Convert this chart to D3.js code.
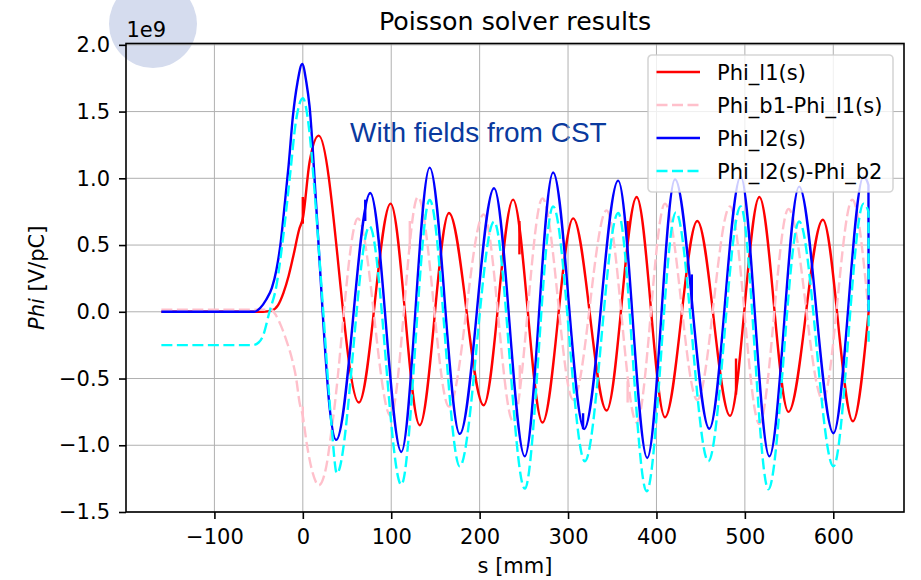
<!DOCTYPE html>
<html>
<head>
<meta charset="utf-8">
<script src="https://cdn.jsdelivr.net/npm/d3@7"></script>
<style>
  body { margin: 0; background: #fff; }
  svg text { font-family: "DejaVu Sans", sans-serif; }
</style>
</head>
<body>
<svg id="chart" width="921" height="580"></svg>
<script>
// values, s in mm, Phi in units of 1e9 V/pC
const phiL1 = [[-160, 0], [-45, 0], [-35, 0.01], [-28, 0.05], [-22, 0.14], [-16, 0.27], [-11, 0.41],
  [-4, 0.62], [0, 0.7], [7.6, 1.12], [18, 1.32], [63.4, -0.68], [99.3, 0.81], [132.2, -0.85],
  [165.3, 0.74], [204.6, -0.7], [237.8, 0.84], [271.1, -0.83], [305.8, 0.7], [343.6, -0.74],
  [377.6, 0.86], [409.6, -0.79], [446.2, 0.68], [483.2, -0.78], [516.4, 0.86], [549.3, -0.75],
  [588.2, 0.69], [622.2, -0.82], [640, 0]];

const phiB1mL1 = [[-160, 0.015], [-36, 0.015], [-30, -0.03], [-25, -0.1], [-18.8, -0.21], [-12, -0.36],
  [-7.5, -0.5], [-3.7, -0.68], [0, -0.78], [3.8, -0.96], [11.3, -1.21], [18.1, -1.3], [26.5, -1.16],
  [34, -0.81], [62.3, 0.7], [99.3, -0.78], [130.2, 0.86], [165.3, -0.71], [204.6, 0.73],
  [237.8, -0.82], [271.1, 0.85], [305.8, -0.66], [343.6, 0.76], [377.6, -0.83], [409.6, 0.81],
  [446.2, -0.66], [483.2, 0.79], [516.4, -0.84], [549.3, 0.77], [588.2, -0.66], [621.5, 0.84], [640, 0]];

const phiL2 = [[-160, 0], [-55, 0], [-48, 0.03], [-41.5, 0.09], [-35, 0.18], [-30, 0.31], [-25, 0.52],
  [-20.7, 0.79], [-16, 1.1], [-11.3, 1.46], [-6, 1.72], [-0.7, 1.856], [4, 1.72], [7.6, 1.54],
  [15.2, 0.79], [22.7, -0.03], [30.2, -0.71], [37.8, -0.96], [76.3, 0.89], [111.4, -1.05],
  [143.5, 1.08], [177.5, -0.915], [216.3, 0.926], [251.1, -1.083], [283.1, 1.043], [318.2, -0.878],
  [356.7, 0.983], [389.6, -1.095], [421, 0.993], [459.8, -0.876], [495.3, 1.013], [527.7, -1.083],
  [561.4, 0.938], [600.2, -0.91], [634.2, 1.013], [639.8, 0.95], [640, 0]];

const phiL2mB2 = [[-160, -0.25], [-57, -0.25], [-50, -0.23], [-45.3, -0.185], [-37.7, 0], [-30, 0.19],
  [-22.6, 0.54], [-15, 0.99], [-7.5, 1.44], [0, 1.6], [7.6, 1.34], [13.2, 0.91], [22.7, 0.04],
  [32.2, -0.83], [38.5, -1.21], [75.5, 0.64], [111.4, -1.295], [143.5, 0.838], [177.5, -1.158],
  [216.3, 0.676], [251.1, -1.325], [283.1, 0.79], [319, -1.12], [356.7, 0.74], [388.9, -1.345],
  [422, 0.745], [458.7, -1.12], [495.3, 0.79], [526.6, -1.33], [561.4, 0.676], [600.2, -1.158],
  [634.2, 0.81], [639.8, 0.75], [640, -0.23]];

// small jumps in the solver output: [s, low, high]
const glitchL1 = [[0, 0.66, 0.86], [245, 0.43, 0.68], [367.4, 0.52, 0.68], [490, -0.62, -0.35]];
const glitchB1mL1 = [[0, -0.83, -0.71], [121, 0.47, 0.68], [245.4, -0.58, -0.4], [367.4, -0.68, -0.52]];
const glitchL2 = [[70.6, 0.68, 0.84], [317, -0.88, -0.76], [440, 0.02, 0.28]];

const seriesNames = ["Phi_l1(s)", "Phi_b1-Phi_l1(s)", "Phi_l2(s)", "Phi_l2(s)-Phi_b2"];
const seriesColors = ["#ff0000", "#ffc0cb", "#0000ff", "#00ffff"];
const seriesDashed = [false, true, false, true];
const xTicks = [-100, 0, 100, 200, 300, 400, 500, 600];
const yTicks = [-1.5, -1.0, -0.5, 0.0, 0.5, 1.0, 1.5, 2.0];

const box = {left: 126, right: 904, top: 43.5, bottom: 512};
const fs = 21;
const lw = 2.4;

const svg = d3.select("#chart");

const x = d3.scaleLinear().domain([-200, 680]).range([box.left, box.right]);
const y = d3.scaleLinear().domain([-1.5, 2.01]).range([box.bottom, box.top]);

// highlight circle behind the offset text
svg.append("circle")
    .attr("cx", 153).attr("cy", 24).attr("r", 44)
    .attr("fill", "#d5dcee");

svg.append("text")
    .attr("x", 350).attr("y", 141.5)
    .style("font-family", "'Liberation Sans', Arial, sans-serif")
    .style("font-size", "28px")
    .attr("fill", "#0a3a9e")
    .text("With fields from CST");

// grid
const grid = svg.append("g");
grid.selectAll(".gx").data(xTicks).join("line")
    .attr("x1", d => x(d)).attr("x2", d => x(d))
    .attr("y1", box.top).attr("y2", box.bottom)
    .attr("stroke", "#b0b0b0").attr("stroke-width", 1);
grid.selectAll(".gy").data(yTicks).join("line")
    .attr("x1", box.left).attr("x2", box.right)
    .attr("y1", d => y(d)).attr("y2", d => y(d))
    .attr("stroke", "#b0b0b0").attr("stroke-width", 1);

// curves
const line = d3.line()
    .x(d => x(d[0]))
    .y(d => y(d[1]))
    .curve(d3.curveMonotoneX);

const allSeries = [phiL1, phiB1mL1, phiL2, phiL2mB2];
const allGlitches = [glitchL1, glitchB1mL1, glitchL2, []];
const plot = svg.append("g");
allSeries.forEach((data, i) => {
  plot.append("path")
      .attr("d", line(data))
      .attr("fill", "none")
      .attr("stroke", seriesColors[i])
      .attr("stroke-width", lw)
      .attr("stroke-dasharray", seriesDashed[i] ? "11,4.5" : null);
  plot.selectAll(null).data(allGlitches[i]).join("line")
      .attr("x1", d => x(d[0])).attr("x2", d => x(d[0]))
      .attr("y1", d => y(d[1])).attr("y2", d => y(d[2]))
      .attr("stroke", seriesColors[i])
      .attr("stroke-width", lw);
});

// axes
const xAxis = svg.append("g")
    .attr("transform", "translate(0," + box.bottom + ")")
    .call(d3.axisBottom(x).tickValues(xTicks).tickSize(7).tickPadding(10).tickSizeOuter(0));
const yAxis = svg.append("g")
    .attr("transform", "translate(" + box.left + ",0)")
    .call(d3.axisLeft(y).tickValues(yTicks).tickSize(7).tickPadding(9).tickSizeOuter(0)
        .tickFormat(d3.format(".1f")));
[xAxis, yAxis].forEach(a => {
  a.select(".domain").remove();
  a.selectAll(".tick line").attr("stroke", "#000").attr("stroke-width", 1.6);
  a.selectAll(".tick text").attr("fill", "#000")
      .style("font-family", "'DejaVu Sans', sans-serif").style("font-size", fs + "px");
});

svg.append("rect")
    .attr("x", box.left).attr("y", box.top)
    .attr("width", box.right - box.left).attr("height", box.bottom - box.top)
    .attr("fill", "none").attr("stroke", "#000").attr("stroke-width", 1.6);

// texts
svg.append("text")
    .attr("x", (box.left + box.right) / 2).attr("y", 29.5)
    .attr("text-anchor", "middle")
    .style("font-size", "25.3px")
    .text("Poisson solver results");

svg.append("text")
    .attr("x", 126.5).attr("y", 36.5)
    .style("font-size", fs + "px")
    .text("1e9");

svg.append("text")
    .attr("x", (box.left + box.right) / 2).attr("y", 573)
    .attr("text-anchor", "middle")
    .style("font-size", fs + "px")
    .text("s [mm]");

const ylab = svg.append("text")
    .attr("transform", "translate(44," + ((box.top + box.bottom) / 2) + ") rotate(-90)")
    .attr("text-anchor", "middle")
    .style("font-size", fs + "px");
ylab.append("tspan").style("font-style", "italic").text("Phi");
ylab.append("tspan").text(" [V/pC]");

// legend
const legend = svg.append("g").attr("transform", "translate(648,55)");
legend.append("rect")
    .attr("width", 245).attr("height", 137).attr("rx", 4)
    .attr("fill", "#fff").attr("fill-opacity", 0.8)
    .attr("stroke", "#cccccc").attr("stroke-opacity", 0.8).attr("stroke-width", 1.6);
seriesNames.forEach((name, i) => {
  const row = legend.append("g").attr("transform", "translate(0," + (17 + i * 33) + ")");
  row.append("line")
      .attr("x1", 8.5).attr("x2", 52)
      .attr("stroke", seriesColors[i]).attr("stroke-width", lw)
      .attr("stroke-dasharray", seriesDashed[i] ? "11,4.5" : null);
  row.append("text")
      .attr("x", 69).attr("dy", "0.36em")
      .style("font-size", fs + "px")
      .text(name);
});
</script>
</body>
</html>
